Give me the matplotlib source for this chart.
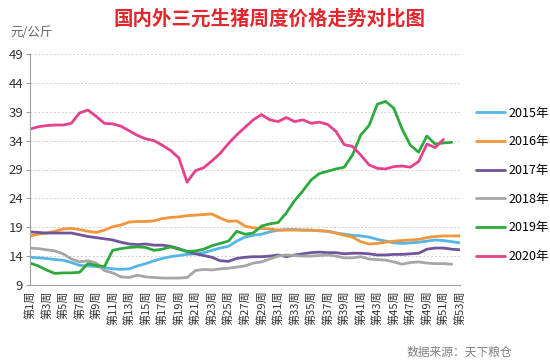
import numpy as np
import matplotlib
matplotlib.use('Agg')
import matplotlib.pyplot as plt

plt.rcParams['font.family'] = ['Noto Sans CJK SC', 'DejaVu Sans']

# weekly prices, yuan/kg
y2015 = [13.8, 13.7, 13.6, 13.4, 13.3, 12.9, 12.4, 12.3, 12.2, 12.0,
         11.8, 11.7, 11.8, 12.3, 12.7, 13.2, 13.6, 13.9, 14.1, 14.3,
         14.4, 14.6, 15.0, 15.4, 15.7, 16.6, 17.3, 17.6, 17.8, 18.2,
         18.5, 18.6, 18.6, 18.5, 18.5, 18.4, 18.3, 18.0, 17.8, 17.6,
         17.5, 17.3, 16.9, 16.6, 16.3, 16.2, 16.3, 16.4, 16.6, 16.8,
         16.7, 16.5, 16.3]
y2016 = [17.5, 17.8, 18.0, 18.3, 18.7, 18.8, 18.6, 18.3, 18.1, 18.5,
         19.1, 19.4, 19.9, 20.0, 20.0, 20.1, 20.5, 20.7, 20.8, 21.0,
         21.1, 21.2, 21.3, 20.6, 20.0, 20.1, 19.2, 18.9, 18.8, 18.7,
         18.5, 18.5, 18.5, 18.5, 18.5, 18.4, 18.3, 18.0, 17.6, 17.3,
         16.5, 16.1, 16.2, 16.4, 16.6, 16.7, 16.8, 16.9, 17.2, 17.4,
         17.5, 17.5, 17.5]
y2017 = [18.2, 18.1, 18.0, 18.0, 18.0, 18.0, 17.7, 17.4, 17.2, 17.0,
         16.8, 16.4, 16.1, 16.0, 16.1, 15.9, 15.9, 15.7, 15.3, 14.8,
         14.4, 14.1, 13.8, 13.2, 13.1, 13.6, 13.8, 13.9, 13.9, 14.0,
         14.2, 13.9, 14.2, 14.4, 14.6, 14.7, 14.6, 14.6, 14.4, 14.5,
         14.5, 14.4, 14.2, 14.2, 14.3, 14.3, 14.4, 14.5, 15.2, 15.4,
         15.4, 15.2, 15.1]
y2018 = [15.4, 15.3, 15.1, 14.9, 14.4, 13.5, 13.0, 13.2, 12.8, 11.5,
         11.1, 10.4, 10.3, 10.7, 10.4, 10.3, 10.2, 10.2, 10.2, 10.3,
         11.5, 11.7, 11.6, 11.8, 11.9, 12.1, 12.3, 12.8, 13.0, 13.5,
         14.0, 14.2, 14.1, 14.0, 14.0, 14.1, 14.2, 14.0, 13.7, 13.7,
         13.9, 13.5, 13.4, 13.3, 13.0, 12.6, 12.9, 13.0, 12.8, 12.7,
         12.7, 12.6]
y2019 = [12.8, 12.3, 11.6, 11.0, 11.1, 11.1, 11.2, 12.7, 12.4, 12.2,
         15.0, 15.3, 15.5, 15.6, 15.5, 15.0, 15.2, 15.6, 15.2, 14.8,
         14.9, 15.2, 15.8, 16.2, 16.6, 18.3, 17.8, 18.0, 19.2, 19.6,
         19.8, 21.5, 23.6, 25.3, 27.2, 28.3, 28.7, 29.1, 29.4, 31.5,
         35.0, 36.6, 40.3, 40.8, 39.6, 36.0, 33.2, 32.0, 34.8, 33.4,
         33.6, 33.7]
y2020 = [36.0, 36.4, 36.6, 36.7, 36.7, 37.0, 38.8, 39.3, 38.2, 37.0,
         36.9, 36.5, 35.7, 34.9, 34.3, 34.0, 33.2, 32.3, 31.0, 26.8,
         28.8, 29.3, 30.5, 31.8, 33.5, 35.0, 36.3, 37.6, 38.5, 37.6,
         37.3, 38.0, 37.3, 37.6, 37.0, 37.2, 36.8, 35.6, 33.3, 33.0,
         31.5, 29.8, 29.2, 29.1, 29.5, 29.6, 29.4, 30.4, 33.4, 32.8,
         34.2]

years = ['2015年', '2016年', '2017年', '2018年', '2019年', '2020年']
colors = ['#53B6E6', '#F2953B', '#71559C', '#A6A6A6', '#2EAA3C', '#E5418D']
series = [y2015, y2016, y2017, y2018, y2019, y2020]

week_labels = ['第%d周' % w for w in range(1, 54, 2)]

fig = plt.figure(figsize=(5.5, 3.64), dpi=100)
ax = fig.add_axes([30 / 550, 1 - 285 / 364, 430 / 550, 231 / 364])

for vals, c, name in zip(series, colors, years):
    weeks = np.arange(1, len(vals) + 1)
    ax.plot(weeks, vals, color=c, lw=2.0, label=name,
            solid_capstyle='round', solid_joinstyle='round')

ax.set_xlim(1, 53)
ax.set_ylim(9, 49)
ax.set_yticks(range(9, 50, 5))
ax.set_xticks(range(1, 54, 2), week_labels, rotation=90, fontsize=8)
ax.set_xticks(range(1, 54, 4), minor=True)
ax.tick_params(axis='x', which='major', length=0, pad=4, colors='#333333')
ax.tick_params(axis='x', which='minor', length=4, color='#999999')
ax.tick_params(axis='y', length=3, color='#999999', labelsize=9.5,
               labelcolor='#333333', pad=2)

for s in ['top', 'right']:
    ax.spines[s].set_visible(False)
for s in ['left', 'bottom']:
    ax.spines[s].set_color('#A0A0A0')
    ax.spines[s].set_linewidth(0.8)

ax.yaxis.grid(True, color='#D0D0D0', linestyle=(0, (2, 2)), lw=0.7)
ax.set_axisbelow(True)

fig.legend(loc='center left', bbox_to_anchor=(0.866, 0.492), frameon=False,
           fontsize=9, handlelength=2.3, handletextpad=0.3, labelspacing=1.25,
           borderpad=0, borderaxespad=0)

fig.text(0.49, 0.95, '国内外三元生猪周度价格走势对比图', ha='center', va='center',
         fontsize=14, fontweight='bold', color='#E0282E')
fig.text(10 / 550, 1 - 33 / 364, '元/公斤', ha='left', va='center',
         fontsize=9, color='#666666')
fig.text(512 / 550, 1 - 352 / 364, '数据来源：天下粮仓', ha='right', va='center',
         fontsize=8.5, color='#808080')

fig.savefig('out.png', dpi=100)
